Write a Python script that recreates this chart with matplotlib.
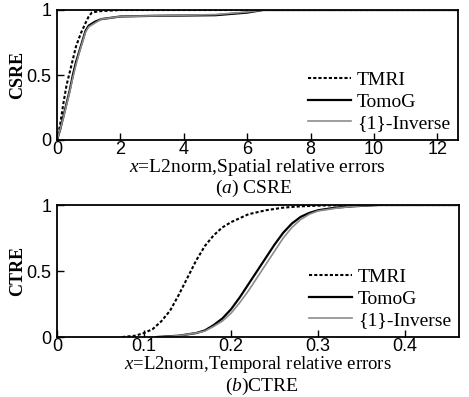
import matplotlib.pyplot as plt

# cumulative distribution of spatial relative errors (CSRE)
csre_x_tmri = [0, 0.1, 0.2, 0.3, 0.4, 0.5, 0.6, 0.75, 0.9, 1.0, 1.1, 1.3, 2.0, 12.6]
csre_y_tmri = [0, 0.12, 0.28, 0.42, 0.52, 0.62, 0.72, 0.82, 0.9, 0.95, 0.98, 0.99, 1.0, 1.0]
csre_x_tomog = [0, 0.1, 0.2, 0.3, 0.4, 0.5, 0.6, 0.7, 0.8, 0.9, 1.0, 1.2, 1.4, 2.0, 3.0, 5.0, 6.0, 6.5, 12.6]
csre_y_tomog = [0, 0.08, 0.18, 0.28, 0.38, 0.5, 0.6, 0.68, 0.76, 0.84, 0.88, 0.91, 0.93, 0.95, 0.955, 0.96, 0.98, 1.0, 1.0]
csre_x_inv = [0, 0.1, 0.2, 0.3, 0.4, 0.5, 0.6, 0.7, 0.8, 0.9, 1.0, 1.2, 1.4, 2.0, 3.0, 5.0, 6.0, 6.5, 12.6]
csre_y_inv = [0, 0.08, 0.17, 0.27, 0.37, 0.48, 0.58, 0.67, 0.75, 0.83, 0.87, 0.9, 0.93, 0.95, 0.955, 0.965, 0.985, 1.0, 1.0]

# cumulative distribution of temporal relative errors (CTRE)
ctre_x_tmri = [0.075, 0.09, 0.1, 0.11, 0.12, 0.13, 0.14, 0.15, 0.16, 0.17, 0.18, 0.19, 0.2, 0.22, 0.24, 0.26, 0.28, 0.3, 0.33, 0.46]
ctre_y_tmri = [0.0, 0.01, 0.03, 0.06, 0.12, 0.2, 0.32, 0.45, 0.58, 0.69, 0.77, 0.83, 0.87, 0.93, 0.96, 0.98, 0.99, 0.995, 1.0, 1.0]
ctre_x_tomog = [0.115, 0.14, 0.16, 0.17, 0.18, 0.19, 0.2, 0.21, 0.22, 0.23, 0.24, 0.25, 0.26, 0.27, 0.28, 0.29, 0.3, 0.32, 0.34, 0.37, 0.46]
ctre_y_tomog = [0.0, 0.01, 0.03, 0.05, 0.09, 0.14, 0.21, 0.3, 0.4, 0.5, 0.6, 0.7, 0.79, 0.86, 0.91, 0.94, 0.96, 0.98, 0.99, 1.0, 1.0]
ctre_x_inv = [0.12, 0.14, 0.16, 0.17, 0.18, 0.19, 0.2, 0.21, 0.22, 0.23, 0.24, 0.25, 0.26, 0.27, 0.28, 0.29, 0.3, 0.32, 0.34, 0.37, 0.46]
ctre_y_inv = [0.0, 0.01, 0.03, 0.045, 0.08, 0.12, 0.18, 0.26, 0.35, 0.45, 0.55, 0.65, 0.75, 0.83, 0.89, 0.93, 0.955, 0.975, 0.99, 1.0, 1.0]

labels = ["TMRI", "TomoG", "{1}-Inverse"]

serif = "Liberation Serif"
sans = "Liberation Sans"

plt.rcParams["mathtext.fontset"] = "custom"
plt.rcParams["mathtext.rm"] = "Liberation Serif"
plt.rcParams["mathtext.it"] = "Liberation Serif:italic"

W, H = 469, 397
fig = plt.figure(figsize=(W / 100, H / 100), dpi=100)
ax1 = fig.add_axes([57 / W, 1 - 140 / H, 401 / W, 130 / H])
ax2 = fig.add_axes([57 / W, 1 - 337 / H, 402 / W, 132 / H])


def draw(ax, data, xlim, xticks, xticklabels, ylabel, xlabel, xlabel_size, caption, cap_x, cap_y):
    (xt, yt), (xg, yg), (xi, yi) = data
    ax.plot(xt, yt, color="black", linestyle=(0, (1.5, 1)), linewidth=1.5, label=labels[0])
    ax.plot(xg, yg, color="black", linewidth=1.6, label=labels[1])
    ax.plot(xi, yi, color="#8c8c8c", linewidth=1.2, label=labels[2])
    ax.set_xlim(xlim)
    ax.set_ylim(0, 1)
    ax.set_xticks(xticks)
    ax.set_xticklabels(xticklabels, fontfamily=sans, fontsize=13)
    ax.set_yticks([0, 0.5, 1])
    ax.set_yticklabels(["0", "0.5", "1"], fontfamily=sans, fontsize=13)
    ax.tick_params(direction="in", length=5, width=1, pad=1)
    ax.tick_params(axis="y", pad=4)
    for s in ax.spines.values():
        s.set_linewidth(1.3)
    ax.set_ylabel(ylabel, fontfamily=serif, fontsize=13, fontweight="bold", labelpad=0)
    ax.set_xlabel(xlabel, fontfamily=serif, fontsize=xlabel_size, labelpad=-1)
    fig.text(cap_x / W, 1 - cap_y / H, caption, ha="center", va="center",
             fontfamily=serif, fontsize=14)
    ax.legend(loc="lower right", frameon=False, handlelength=2.2, handletextpad=0.3,
              labelspacing=0.2, borderaxespad=0.0,
              prop={"family": serif, "size": 14})


draw(ax1, [(csre_x_tmri, csre_y_tmri), (csre_x_tomog, csre_y_tomog), (csre_x_inv, csre_y_inv)],
     (0, 12.65), [0, 2, 4, 6, 8, 10, 12], ["0", "2", "4", "6", "8", "10", "12"],
     "CSRE", r"$\it{x}$=L2norm,Spatial relative errors", 14, r"($\it{a}$) CSRE", 254, 188)
draw(ax2, [(ctre_x_tmri, ctre_y_tmri), (ctre_x_tomog, ctre_y_tomog), (ctre_x_inv, ctre_y_inv)],
     (0, 0.462), [0, 0.1, 0.2, 0.3, 0.4], ["0", "0.1", "0.2", "0.3", "0.4"],
     "CTRE", r"$\it{x}$=L2norm,Temporal relative errors", 13.5, r"($\it{b}$)CTRE", 262, 386)

fig.savefig("out.png", dpi=100)
